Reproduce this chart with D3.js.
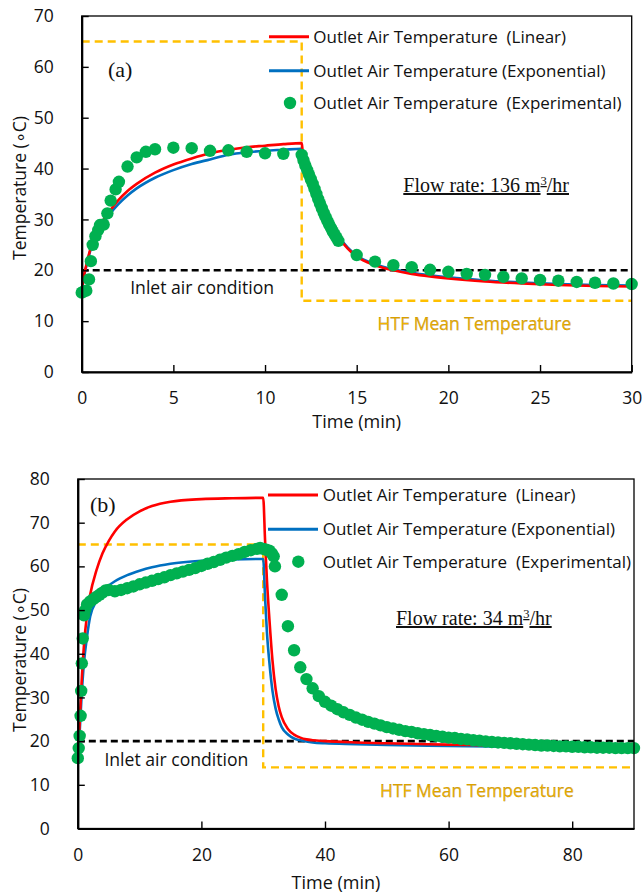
<!DOCTYPE html>
<html>
<head>
<meta charset="utf-8">
<script src="https://cdn.jsdelivr.net/npm/d3@7"></script>
<style>
  body { margin: 0; background: #fff; }
  text { font-family: "Open Sans", sans-serif; fill: #111; }
  .serif { font-family: "Liberation Serif", "Times New Roman", serif; }
</style>
</head>
<body>
<div id="chart"></div>
<script>
// ---- panel (a): flow rate 136 m3/hr ----
const expTimeA = [0, 0.1, 0.25, 0.4, 0.5, 0.6, 0.75, 0.9, 1.0, 1.2, 1.4, 1.58, 1.85, 2.03, 2.5, 3, 3.5, 4, 5, 6, 7, 8, 9, 10, 11, 12,
  12.1, 12.2, 12.3, 12.4, 12.5, 12.6, 12.7, 12.8, 12.9, 13, 13.1, 13.2, 13.3, 13.4, 13.5, 13.6, 13.7, 13.8, 13.9, 14,
  15, 16, 17, 18, 19, 20, 21, 22, 23, 24, 25, 26, 27, 28, 29, 30];
const expTempA = [15.6, 15.8, 16.0, 18.2, 21.8, 25.0, 26.7, 27.9, 28.9, 29.0, 31.2, 33.7, 35.9, 37.4, 40.4, 42.2, 43.3, 43.8, 44.1, 44.0, 43.5, 43.6, 43.3, 43.0, 42.9, 42.7,
  41.6, 40.6, 39.7, 38.8, 37.9, 37.0, 36.0, 35.0, 34.0, 33.1, 32.2, 31.3, 30.5, 29.7, 29.0, 28.3, 27.6, 27.0, 26.4, 25.8,
  23.0, 21.7, 21.0, 20.6, 20.1, 19.7, 19.3, 19.1, 18.7, 18.4, 18.1, 17.95, 17.7, 17.55, 17.4, 17.3];
const modelTimeA = [0, 0.1, 0.25, 0.5, 0.75, 1, 1.5, 2, 2.5, 3, 4, 5, 6, 7, 8, 9, 10, 11, 12,
  12.05, 12.2, 12.5, 13, 13.5, 14, 14.5, 15, 16, 17, 18, 19, 20, 22, 24, 26, 28, 30];
const linearA = [16.0, 18.5, 21.0, 24.5, 27.0, 28.8, 31.5, 33.8, 35.6, 37.0, 39.2, 40.8, 42.0, 43.0, 43.7, 44.2, 44.5, 44.8, 45.0,
  43.5, 41.5, 38.5, 33.8, 29.8, 26.6, 24.3, 22.7, 21.0, 20.0, 19.3, 18.8, 18.4, 17.8, 17.4, 17.1, 16.9, 16.8];
const exponentialA = [16.0, 18.3, 20.8, 24.2, 26.6, 28.3, 30.9, 33.0, 34.7, 36.1, 38.2, 39.7, 40.9, 41.8, 42.7, 43.2, 43.5, 43.7, 43.9,
  43.0, 41.3, 38.5, 33.8, 29.9, 26.8, 24.5, 22.9, 21.2, 20.2, 19.5, 19.0, 18.6, 18.0, 17.6, 17.3, 17.1, 17.0];
const htfTimeA = [0, 12, 12, 30];
const htfTempA = [65, 65, 14, 14];
const inletTimeA = [0, 30];
const inletTempA = [20, 20];
const xTicksA = [0, 5, 10, 15, 20, 25, 30];
const yTicksA = [0, 10, 20, 30, 40, 50, 60, 70];

// ---- panel (b): flow rate 34 m3/hr ----
const expTimeB = [0, 0.15, 0.3, 0.45, 0.55, 0.65, 0.8, 1.0, 1.2, 1.5, 2, 2.5, 3, 3.5, 4, 4.5, 5, 6, 7, 8, 9, 10,
  11, 12, 13, 14, 15, 16, 17, 18, 19, 20, 21, 22, 23, 24, 25, 26, 27, 28, 29, 29.5, 30, 30.5, 31, 31.4, 31.7, 31.9,
  33, 34, 35, 36, 37, 38, 39, 40, 41, 42, 43, 44, 45, 46, 47, 48, 49, 50, 51, 52, 53, 54, 55, 56, 57, 58, 59, 60,
  61, 62, 63, 64, 65, 66, 67, 68, 69, 70, 71, 72, 73, 74, 75, 76, 77, 78, 79, 80, 81, 82, 83, 84, 85, 86, 87, 88, 89, 90];
const expTempB = [16.1, 18.4, 21.2, 25.8, 31.5, 37.8, 43.5, 48.8, 50.0, 51.3, 52.0, 52.5, 53.0, 53.5, 54.0, 54.5, 54.6, 54.3, 54.6, 55.0, 55.4, 55.9,
  56.3, 56.7, 57.1, 57.5, 58.0, 58.4, 58.8, 59.2, 59.6, 60.1, 60.6, 61.0, 61.5, 62.0, 62.4, 62.8, 63.3, 63.7, 64.0, 64.2, 64.0, 63.8, 63.6, 63.0, 62.3, 60.0,
  53.5, 46.3, 40.8, 36.9, 34.2, 32.1, 30.3, 29.0, 28.1, 27.3, 26.6, 26.0, 25.4, 24.9, 24.4, 24.0, 23.6, 23.2, 22.9, 22.6, 22.3, 22.1, 21.8, 21.6, 21.4, 21.2, 21.0, 20.8,
  20.7, 20.5, 20.4, 20.2, 20.1, 19.9, 19.8, 19.7, 19.6, 19.5, 19.4, 19.3, 19.2, 19.1, 19.0, 19.0, 18.9, 18.8, 18.8, 18.7, 18.7, 18.6, 18.6, 18.5, 18.5, 18.5, 18.4, 18.4, 18.4, 18.4];
const modelTimeB = [0, 0.3, 0.6, 1, 1.5, 2, 3, 4, 5, 6, 8, 10, 12, 15, 20, 25, 30,
  30.3, 30.6, 31, 31.5, 32, 32.5, 33, 34, 35, 36, 37, 38, 40, 45, 50, 60, 70, 80, 90];
const linearB = [16, 24, 33, 42, 49, 53.5, 59, 63, 65.8, 68, 70.8, 72.6, 73.8, 74.8, 75.4, 75.6, 75.7,
  66, 57, 48, 38.5, 32, 28, 25.5, 22.8, 21.5, 20.8, 20.4, 20.2, 20.0, 19.7, 19.5, 19.2, 18.9, 18.7, 18.5];
const exponentialB = [16, 22, 30, 38, 44, 48.5, 52, 54.2, 55.6, 56.6, 58.0, 59.0, 59.8, 60.6, 61.3, 61.6, 61.7,
  53, 45, 38, 31.5, 27.5, 25, 23.2, 21.5, 20.6, 20.2, 19.9, 19.7, 19.5, 19.3, 19.1, 18.9, 18.7, 18.6, 18.5];
const htfTimeB = [0, 30, 30, 90];
const htfTempB = [65, 65, 14, 14];
const inletTimeB = [0, 90];
const inletTempB = [20, 20];
const xTicksB = [0, 20, 40, 60, 80];
const yTicksB = [0, 10, 20, 30, 40, 50, 60, 70, 80];

const legendLabels = ['Outlet Air Temperature  (Linear)', 'Outlet Air Temperature (Exponential)', 'Outlet Air Temperature  (Experimental)'];

const RED = '#ff0000', BLUE = '#0070c0', GREEN = '#00b050', GOLD = '#ffc000';

const svg = d3.select('#chart').append('svg')
  .attr('width', 642).attr('height', 896);

const zip = (xs, ys) => xs.map((x, i) => [x, ys[i]]);

function panel(p) {
  const x = d3.scaleLinear().domain(p.xDomain).range([p.left, p.right]);
  const y = d3.scaleLinear().domain(p.yDomain).range([p.bottom, p.top]);
  const g = svg.append('g');

  // reference lines
  const straight = d3.line().x(d => x(d[0])).y(d => y(d[1]));
  g.append('path').attr('d', straight(zip(p.inletTime, p.inletTemp)))
    .attr('fill', 'none').attr('stroke', '#000').attr('stroke-width', 2.6).attr('stroke-dasharray', '7,4');
  g.append('path').attr('d', straight(zip(p.htfTime, p.htfTemp)))
    .attr('fill', 'none').attr('stroke', GOLD).attr('stroke-width', 2.4).attr('stroke-dasharray', '8,5');

  // model curves
  const curve = d3.line().x(d => x(d[0])).y(d => y(d[1])).curve(d3.curveMonotoneX);
  g.append('path').attr('d', curve(zip(p.modelTime, p.exponential)))
    .attr('fill', 'none').attr('stroke', BLUE).attr('stroke-width', 2.6);
  g.append('path').attr('d', curve(zip(p.modelTime, p.linear)))
    .attr('fill', 'none').attr('stroke', RED).attr('stroke-width', 2.6);

  // experimental points
  g.append('g').selectAll('circle')
    .data(zip(p.expTime, p.expTemp))
    .join('circle')
      .attr('cx', d => x(d[0]))
      .attr('cy', d => y(d[1]))
      .attr('r', 6.2)
      .attr('fill', GREEN);

  // frame
  g.append('rect').attr('x', p.left).attr('y', p.top)
    .attr('width', p.right - p.left).attr('height', p.bottom - p.top)
    .attr('fill', 'none').attr('stroke', '#000').attr('stroke-width', 1.3);

  // axes, ticks inside
  const xAxis = g.append('g').attr('transform', `translate(0,${p.bottom})`)
    .call(d3.axisBottom(x).tickValues(p.xTicks).tickSizeInner(-7).tickSizeOuter(0).tickPadding(20));
  const yAxis = g.append('g').attr('transform', `translate(${p.left},0)`)
    .call(d3.axisLeft(y).tickValues(p.yTicks).tickSizeInner(-7).tickSizeOuter(0).tickPadding(28));
  [xAxis, yAxis].forEach(a => {
    a.select('.domain').attr('stroke-width', 2.2);
    a.selectAll('.tick line').attr('stroke-width', 1.4);
    a.selectAll('text').attr('font-size', 17.5).attr('font-family', '"Open Sans", sans-serif').attr('fill', '#111');
  });
  xAxis.selectAll('text').attr('dy', '0.71em');

  // axis titles
  g.append('text').attr('x', p.xTitleX).attr('y', p.xTitleY)
    .attr('text-anchor', 'middle').attr('font-size', 18).text('Time (min)');
  g.append('text').attr('transform', `translate(26,${p.yTitleY}) rotate(-90)`)
    .attr('text-anchor', 'middle').attr('font-size', 17.5).text('Temperature (\u2218C)');

  // panel letter
  g.append('text').attr('class', 'serif').attr('x', p.letterX).attr('y', p.letterY)
    .attr('font-size', 22).text(p.letter);

  // flow rate
  const fr = g.append('text').attr('class', 'serif').attr('x', p.flowX).attr('y', p.flowY)
    .attr('font-size', 20).attr('text-decoration', 'underline');
  fr.append('tspan').text(`Flow rate: ${p.flow} m`);
  fr.append('tspan').attr('dy', -7).attr('font-size', 12.5).text('3');
  fr.append('tspan').attr('dy', 7).text('/hr');

  // annotations
  g.append('text').attr('x', p.inletX).attr('y', p.inletY).attr('font-size', 17.6).text('Inlet air condition');
  g.append('text').attr('x', p.htfX).attr('y', p.htfY).attr('font-size', 17.5)
    .style('fill', '#f2b400').attr('stroke', '#a07000').attr('stroke-width', 0.25).text('HTF Mean Temperature');

  // legend
  const lg = g.append('g');
  [RED, BLUE].forEach((c, i) => {
    lg.append('line').attr('x1', p.legX0).attr('x2', p.legX1)
      .attr('y1', p.legY[i]).attr('y2', p.legY[i])
      .attr('stroke', c).attr('stroke-width', 3);
  });
  lg.append('circle').attr('cx', p.legDotX).attr('cy', p.legY[2]).attr('r', 6.2).attr('fill', GREEN);
  legendLabels.forEach((t, i) => {
    lg.append('text').attr('x', p.legTextX).attr('y', p.legY[i]).attr('dy', '0.35em')
      .attr('font-size', 17).style('white-space', 'pre').text(t);
  });
}

panel({
  xDomain: [0, 30], yDomain: [0, 70], left: 81.7, right: 631.7, top: 16, bottom: 372,
  xTicks: xTicksA, yTicks: yTicksA,
  expTime: expTimeA, expTemp: expTempA, modelTime: modelTimeA, linear: linearA, exponential: exponentialA,
  htfTime: htfTimeA, htfTemp: htfTempA, inletTime: inletTimeA, inletTemp: inletTempA,
  xTitleX: 356.7, xTitleY: 428, yTitleY: 188,
  letter: '(a)', letterX: 108, letterY: 77,
  flow: 136, flowX: 403.3, flowY: 192,
  inletX: 130.2, inletY: 294, htfX: 377.6, htfY: 330,
  legX0: 269, legX1: 309, legDotX: 290, legTextX: 313.3, legY: [36.7, 70.7, 103]
});

panel({
  xDomain: [0, 90], yDomain: [0, 80], left: 77.8, right: 634, top: 479, bottom: 828.5,
  xTicks: xTicksB, yTicks: yTicksB,
  expTime: expTimeB, expTemp: expTempB, modelTime: modelTimeB, linear: linearB, exponential: exponentialB,
  htfTime: htfTimeB, htfTemp: htfTempB, inletTime: inletTimeB, inletTemp: inletTempB,
  xTitleX: 336, xTitleY: 889, yTitleY: 660,
  letter: '(b)', letterX: 90, letterY: 512,
  flow: 34, flowX: 396, flowY: 625,
  inletX: 104.4, inletY: 766, htfX: 380, htfY: 797,
  legX0: 268, legX1: 318, legDotX: 298.3, legTextX: 322.7, legY: [495, 529.3, 561.7]
});
</script>
</body>
</html>
